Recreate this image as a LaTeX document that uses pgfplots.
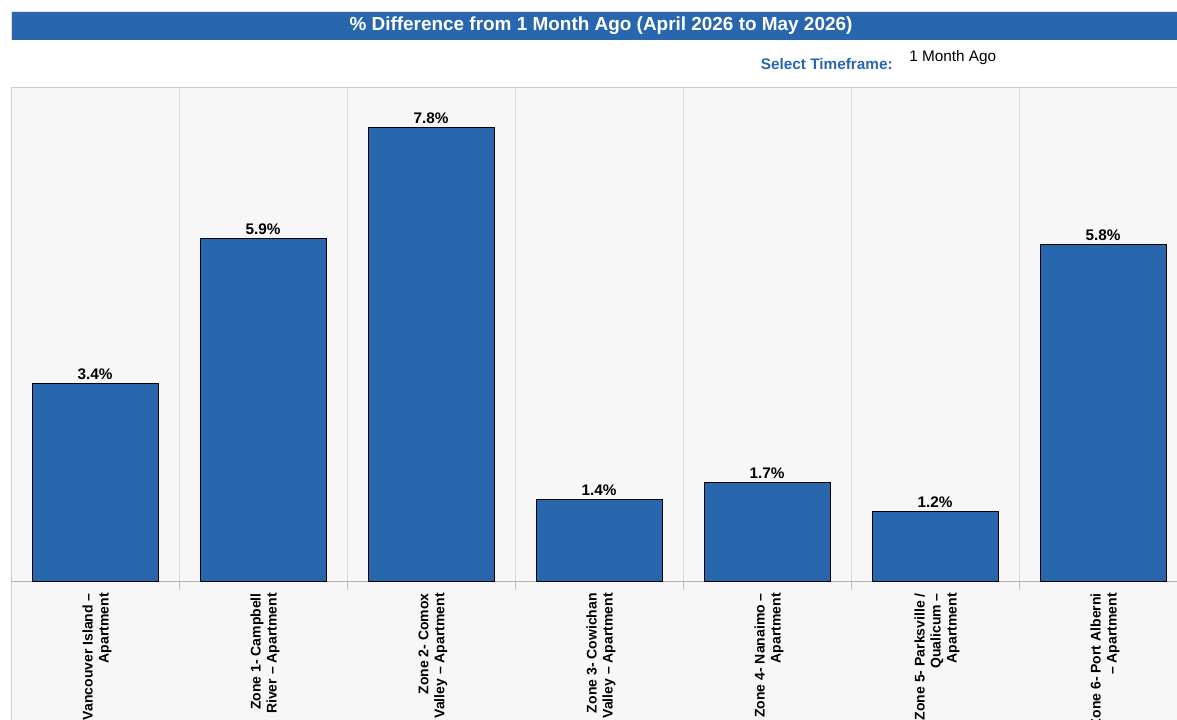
\documentclass[border=0pt]{standalone}
\usepackage{pgfplots}
\pgfplotsset{compat=1.18}
\usepackage{fontspec}
\setmainfont{Liberation Sans}
\definecolor{barblue}{HTML}{2866AE}
\definecolor{panel}{HTML}{F7F7F7}
\begin{document}
\begin{tikzpicture}
\useasboundingbox (0,0) rectangle (882.75pt,539.25pt);
\clip (0,0) rectangle (882.75pt,539.25pt);
% panel
\fill[panel] (8.25pt,-10pt) rectangle (900pt,474pt);
\draw[gray!40] (8.25pt,-10pt) -- (8.25pt,474pt) -- (900pt,474pt);
% title bar
\fill[barblue] (8.25pt,509.25pt) rectangle (900pt,531pt);
\draw[gray!25] (8.25pt,509.25pt) -- (8.25pt,531pt) -- (900pt,531pt);
\node[text=white, inner sep=0pt, font=\bfseries\fontsize{14.2}{16}\selectfont] at (450.75pt,520.1pt) {\% Difference from 1 Month Ago (April 2026 to May 2026)};
\node[text=barblue, anchor=east, inner sep=0pt, font=\bfseries\fontsize{11.5}{13}\selectfont] at (669.75pt,491.25pt) {Select Timeframe:};
\node[anchor=west, inner sep=0pt, font=\fontsize{11.5}{13}\selectfont] at (681.75pt,495.75pt) {1 Month Ago};
\begin{axis}[
  at={(8.25pt,103.5pt)}, anchor=south west,
  scale only axis, width=882pt, height=370.5pt,
  xmin=-0.5, xmax=6.5, ymin=0, ymax=8.505,
  axis x line*=bottom, axis y line=none,
  x axis line style={draw=gray!60},
  ytick=\empty,
  xtick=data,
  xticklabels={{Vancouver Island –\\Apartment},{Zone 1- Campbell\\River – Apartment},{Zone 2- Comox\\Valley – Apartment},{Zone 3- Cowichan\\Valley – Apartment},{Zone 4- Nanaimo –\\Apartment},{Zone 5- Parksville /\\Qualicum –\\Apartment},{Zone 6- Port Alberni\\– Apartment}},
  xticklabel style={rotate=90, anchor=east, align=right, inner sep=0pt, yshift=-1.5pt, font=\bfseries\fontsize{10.5}{12}\selectfont},
  xticklabel shift=9pt,
  major tick length=0pt,
  minor xtick={0.5,1.5,2.5,3.5,4.5,5.5},
  minor tick length=6.75pt,
  tick align=outside,
  minor tick style={draw=gray!50},
  xminorgrids,
  minor x grid style={dash pattern=on 0.75pt off 0.75pt, gray!45},
  ybar, bar width=0.75,
  /pgf/number format/assume math mode=true,
  nodes near coords={\pgfmathprintnumber[fixed,precision=1,fixed zerofill]{\pgfplotspointmeta}\%},
  nodes near coords style={font=\bfseries\fontsize{11.5}{13}\selectfont, anchor=south, inner sep=2.5pt},
]
\addplot[fill=barblue, draw=black, line width=0.75pt] coordinates {(0,3.4) (1,5.9) (2,7.8) (3,1.4) (4,1.7) (5,1.2) (6,5.8)};
\end{axis}
\end{tikzpicture}
\end{document}
